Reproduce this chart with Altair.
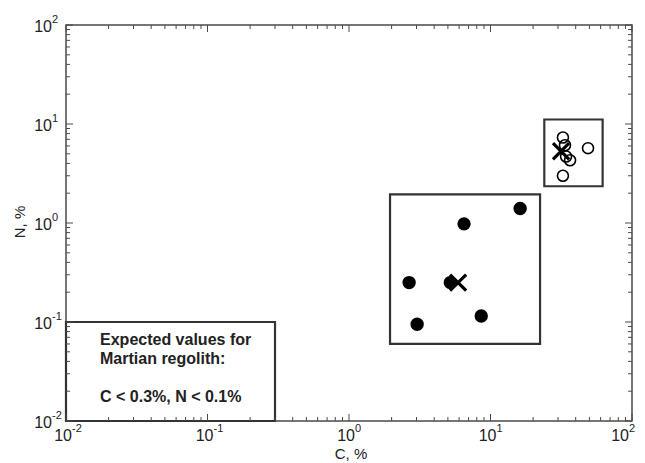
import altair as alt
import pandas as pd

# ---- data ----
filled_c = [2.66, 3.03, 5.2, 6.5, 8.6, 16.2]
filled_n = [0.25, 0.095, 0.25, 0.98, 0.115, 1.4]

open_c = [32.5, 33.6, 34.2, 36.5, 48.9, 32.5]
open_n = [7.3, 6.1, 4.7, 4.3, 5.7, 3.0]

mean_c = [5.9, 31.5]
mean_n = [0.25, 5.3]

box_c1 = [0.01, 1.95, 24.0]
box_c2 = [0.3, 22.4, 62.0]
box_n1 = [0.01, 0.06, 2.35]
box_n2 = [0.1, 1.95, 11.1]

note_lines = ["Expected values for", "Martian regolith:", "C < 0.3%, N < 0.1%"]
note_c = [0.0174, 0.0174, 0.0174]
note_n = [0.066, 0.0425, 0.0176]

tick_values = [0.01, 0.1, 1, 10, 100]
tick_base = ["10", "10", "10", "10", "10"]
tick_exp = ["-2", "-1", "0", "1", "2"]
minor_mult = [2, 3, 4, 5, 6, 7, 8, 9]
decades = [0.01, 0.1, 1, 10]

x_title = "C, %"
y_title = "N, %"

W, H = 566, 396
FONT = "Liberation Sans"
INK = "#222222"
FRAME = "#4a4a4a"

xscale = alt.Scale(type="log", domain=[0.01, 100], nice=False)
yscale = alt.Scale(type="log", domain=[0.01, 100], nice=False)

df_f = pd.DataFrame({"c": filled_c, "n": filled_n})
df_o = pd.DataFrame({"c": open_c, "n": open_n})
df_m = pd.DataFrame({"c": mean_c, "n": mean_n})
df_b = pd.DataFrame({"c1": box_c1, "c2": box_c2, "n1": box_n1, "n2": box_n2})
df_t = pd.DataFrame({"c": note_c, "n": note_n, "t": note_lines})
df_lab = pd.DataFrame({"v": tick_values, "b": tick_base, "e": tick_exp})

major_df = pd.DataFrame({"v": tick_values})
minor_df = pd.DataFrame({"v": [d * m for d in decades for m in minor_mult]})

boxes = alt.Chart(df_b).mark_rect(fill=None, stroke="#333333", strokeWidth=2.2).encode(
    x=alt.X("c1:Q", scale=xscale, axis=None),
    x2="c2:Q",
    y=alt.Y("n1:Q", scale=yscale, axis=None),
    y2="n2:Q",
)

filled = alt.Chart(df_f).mark_point(shape="circle", filled=True, fill="black",
                                    stroke="black", size=130, opacity=1).encode(
    x=alt.X("c:Q", scale=xscale), y=alt.Y("n:Q", scale=yscale))

opened = alt.Chart(df_o).mark_point(shape="circle", filled=False, stroke="black",
                                    strokeWidth=1.6, size=120, opacity=1).encode(
    x=alt.X("c:Q", scale=xscale), y=alt.Y("n:Q", scale=yscale))

means = alt.Chart(df_m).mark_point(shape="M-1,-1L1,1M-1,1L1,-1", filled=False,
                                   stroke="black", strokeWidth=3.2, size=260,
                                   opacity=1).encode(
    x=alt.X("c:Q", scale=xscale), y=alt.Y("n:Q", scale=yscale))

note = alt.Chart(df_t).mark_text(align="left", baseline="middle", font=FONT,
                                 fontSize=16, fontWeight="bold", color=INK).encode(
    x=alt.X("c:Q", scale=xscale), y=alt.Y("n:Q", scale=yscale), text="t:N")

# inside ticks on all four sides
tick_layers = []
for d, ln in [(major_df, 7), (minor_df, 4)]:
    tick_layers.append(alt.Chart(d).mark_rule(color=FRAME, strokeWidth=1).encode(
        x=alt.X("v:Q", scale=xscale), y=alt.value(H), y2=alt.value(H - ln)))
    tick_layers.append(alt.Chart(d).mark_rule(color=FRAME, strokeWidth=1).encode(
        x=alt.X("v:Q", scale=xscale), y=alt.value(0), y2=alt.value(ln)))
    tick_layers.append(alt.Chart(d).mark_rule(color=FRAME, strokeWidth=1).encode(
        y=alt.Y("v:Q", scale=yscale), x=alt.value(0), x2=alt.value(ln)))
    tick_layers.append(alt.Chart(d).mark_rule(color=FRAME, strokeWidth=1).encode(
        y=alt.Y("v:Q", scale=yscale), x=alt.value(W), x2=alt.value(W - ln)))

# tick labels as 10 with superscript exponent
lab = alt.Chart(df_lab)
label_layers = []
for cond, shift in [("datum.v < 50", 6), ("datum.v >= 50", -3)]:
    label_layers.append(lab.transform_filter(cond).mark_text(
        align="right", baseline="middle", font=FONT, fontSize=16,
        color=INK, dx=shift).encode(
        x=alt.X("v:Q", scale=xscale), y=alt.value(H + 15), text="b:N"))
    label_layers.append(lab.transform_filter(cond).mark_text(
        align="left", baseline="middle", font=FONT, fontSize=11,
        color=INK, dx=shift).encode(
        x=alt.X("v:Q", scale=xscale), y=alt.value(H + 8), text="e:N"))
y_base = lab.mark_text(align="right", baseline="middle", font=FONT, fontSize=16,
                       color=INK, dy=2).encode(
    y=alt.Y("v:Q", scale=yscale), x=alt.value(-14), text="b:N")
y_exp = lab.mark_text(align="left", baseline="middle", font=FONT, fontSize=11,
                      color=INK, dy=-5).encode(
    y=alt.Y("v:Q", scale=yscale), x=alt.value(-14), text="e:N")

xt = alt.Chart(pd.DataFrame({"t": [x_title]})).mark_text(
    font=FONT, fontSize=15, color=INK, baseline="middle").encode(
    x=alt.value(W / 2 + 2), y=alt.value(H + 33), text="t:N")
yt = alt.Chart(pd.DataFrame({"t": [y_title]})).mark_text(
    font=FONT, fontSize=15, color=INK, baseline="middle", angle=270).encode(
    x=alt.value(-46), y=alt.value(H / 2 - 1), text="t:N")

chart = alt.layer(boxes, *tick_layers, filled, opened, means, note,
                  *label_layers, y_base, y_exp, xt, yt).properties(
    width=W, height=H,
    autosize=alt.AutoSizeParams(type="none"),
    padding={"left": 58, "top": 17, "right": 5, "bottom": 42},
    background="white",
).configure_view(stroke=FRAME, strokeWidth=1.5)

chart.save("out.html", embed_options={"renderer": "svg", "actions": False})
